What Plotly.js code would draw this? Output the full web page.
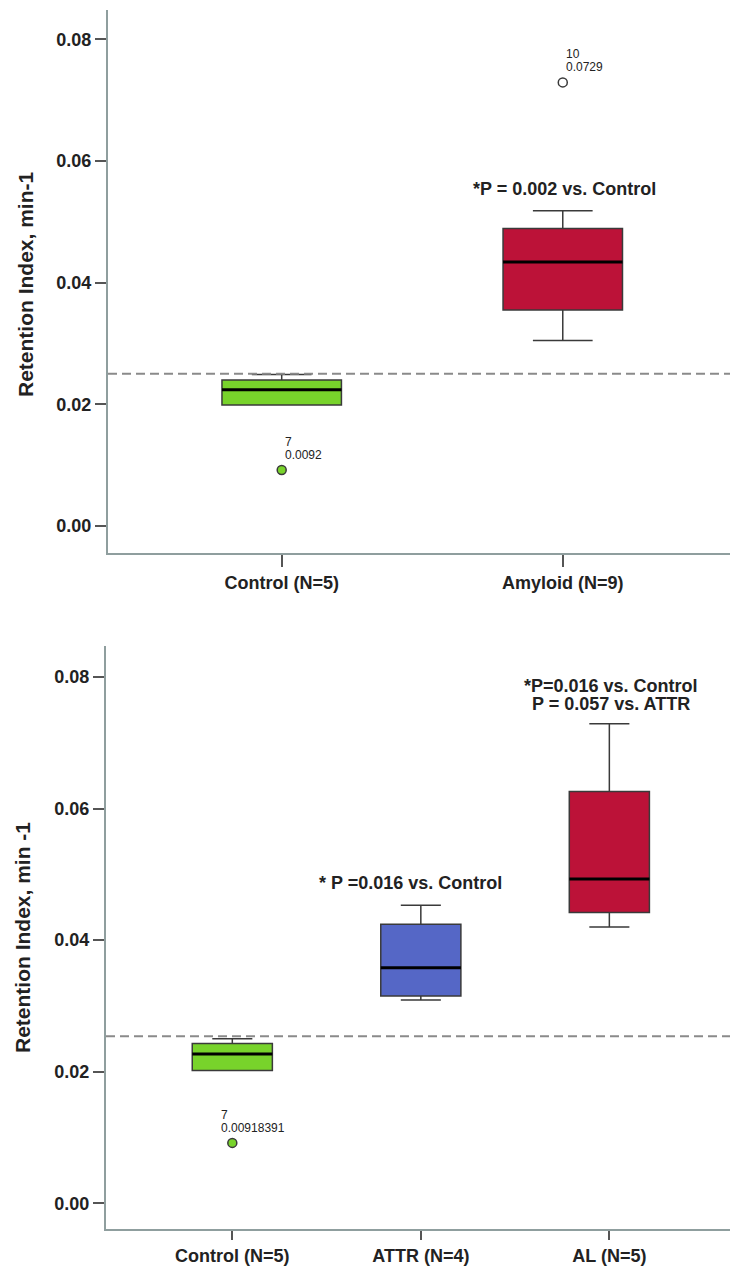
<!DOCTYPE html>
<html>
<head>
<meta charset="utf-8">
<script src="https://cdn.plot.ly/plotly-3.0.1.min.js"></script>
<style>
  html, body { margin: 0; padding: 0; background: #ffffff; }
  #chart { width: 736px; height: 1268px; }
</style>
</head>
<body>
<div id="chart"></div>
<script>
// ---- Upper panel: Control vs. Amyloid ----
const topGroups = ['Control (N=5)', 'Amyloid (N=9)'];
const topLow = [0.0199, 0.0305];
const topQ1 = [0.0199, 0.0355];
const topMedian = [0.0224, 0.0434];
const topQ3 = [0.0240, 0.0489];
const topHigh = [0.0249, 0.0518];
const topColors = ['#78d32b', '#bc1238'];
const topOutlierGroup = [0, 1];
const topOutlierValue = [0.0092, 0.0729];
const topOutlierCase = ['7', '10'];
const topOutlierLabel = ['0.0092', '0.0729'];
const topOutlierFill = ['#78d32b', '#ffffff'];
const topCutoff = 0.025;
const topStats = [{ group: 1, lines: ['*P = 0.002 vs. Control'] }];

// ---- Lower panel: Control vs. ATTR vs. AL ----
const botGroups = ['Control (N=5)', 'ATTR (N=4)', 'AL (N=5)'];
const botLow = [0.0203, 0.0309, 0.0420];
const botQ1 = [0.0202, 0.0315, 0.0442];
const botMedian = [0.0227, 0.0358, 0.0493];
const botQ3 = [0.0243, 0.0424, 0.0626];
const botHigh = [0.0250, 0.0453, 0.0729];
const botColors = ['#78d32b', '#5567c6', '#bc1238'];
const botOutlierGroup = [0];
const botOutlierValue = [0.00918391];
const botOutlierCase = ['7'];
const botOutlierLabel = ['0.00918391'];
const botOutlierFill = ['#78d32b'];
const botCutoff = 0.0254;
const botStats = [
  { group: 1, lines: ['* P =0.016 vs. Control'] },
  { group: 2, lines: ['*P=0.016 vs. Control', 'P = 0.057 vs. ATTR'] }
];

const yTicks = [0, 0.02, 0.04, 0.06, 0.08];
const yTitleTop = 'Retention Index, min-1';
const yTitleBot = 'Retention Index, min -1';

const FONT = 'Liberation Sans, Arial, Helvetica, sans-serif';
const BOX_W = 0.425;
const AXIS_LINE = '#8f9e9e';
const TICK_COL = '#555555';
const TEXT_COL = '#222222';

const traces = [];
const annotations = [];
const shapes = [];

function addPanel(groups, low, q1, med, q3, high, colors,
                  oGroup, oValue, oCase, oLabel, oFill, stats, xa, ya, caseShiftX) {
  const xr = xa;
  const yr = ya;
  groups.forEach((g, i) => {
    traces.push({
      type: 'box',
      x: [i], q1: [q1[i]], median: [med[i]], q3: [q3[i]],
      lowerfence: [low[i]], upperfence: [high[i]],
      width: BOX_W, whiskerwidth: 0.5,
      fillcolor: colors[i],
      line: { color: '#3a3a3a', width: 1.5 },
      boxpoints: false, hoverinfo: 'skip',
      xaxis: xr, yaxis: yr, showlegend: false
    });
    // heavier median bar drawn over the box
    traces.push({
      type: 'scatter', mode: 'lines',
      x: [i - BOX_W / 2, i + BOX_W / 2], y: [med[i], med[i]],
      line: { color: '#000000', width: 3 },
      hoverinfo: 'skip', xaxis: xr, yaxis: yr, showlegend: false
    });
  });
  // outlying cases
  traces.push({
    type: 'scatter', mode: 'markers',
    x: oGroup, y: oValue,
    marker: { size: 9, color: oFill, line: { color: '#3a3a3a', width: 1.5 } },
    hoverinfo: 'skip', xaxis: xr, yaxis: yr, showlegend: false
  });
  oGroup.forEach((gi, k) => {
    const base = { xref: xr, yref: yr, x: gi, y: oValue[k], showarrow: false,
                   xanchor: 'left', yanchor: 'middle',
                   font: { family: FONT, size: 12, color: TEXT_COL } };
    annotations.push(Object.assign({}, base, { text: oCase[k], yshift: 28, xshift: caseShiftX[k] }));
    annotations.push(Object.assign({}, base, { text: oLabel[k], yshift: 15, xshift: caseShiftX[k] }));
  });
  // significance notes above the upper whiskers
  stats.forEach(s => {
    const n = s.lines.length;
    s.lines.forEach((t, j) => {
      annotations.push({
        xref: xr, yref: yr, x: s.group, y: high[s.group],
        text: t, showarrow: false, xanchor: 'center', yanchor: 'middle',
        yshift: (n === 1 ? 22 : 20 + (n - 1 - j) * 18),
        xshift: (n === 1 && s.group === 1 && groups.length === 3) ? -10 : 2,
        font: { family: FONT, size: 18, weight: 'bold', color: TEXT_COL }
      });
    });
  });
}

addPanel(topGroups, topLow, topQ1, topMedian, topQ3, topHigh, topColors,
         topOutlierGroup, topOutlierValue, topOutlierCase, topOutlierLabel, topOutlierFill,
         topStats, 'x', 'y', [1, 1]);
addPanel(botGroups, botLow, botQ1, botMedian, botQ3, botHigh, botColors,
         botOutlierGroup, botOutlierValue, botOutlierCase, botOutlierLabel, botOutlierFill,
         botStats, 'x2', 'y2', [-13]);

// reference cut-off lines
[[topCutoff, 'x', 'y'], [botCutoff, 'x2', 'y2']].forEach(([v, xr, yr]) => {
  shapes.push({
    type: 'line', xref: xr + ' domain', yref: yr, x0: 0, x1: 1, y0: v, y1: v,
    line: { color: '#8a8a8a', width: 2, dash: '9px,5px' }, layer: 'above'
  });
});

// vertical axis titles
annotations.push({
  xref: 'paper', yref: 'paper', x: 26 / 736, y: 1 - 284 / 1268,
  text: yTitleTop, textangle: -90, showarrow: false,
  xanchor: 'center', yanchor: 'middle',
  font: { family: FONT, size: 21, weight: 'bold', color: TEXT_COL }
});
annotations.push({
  xref: 'paper', yref: 'paper', x: 23 / 736, y: 1 - 938 / 1268,
  text: yTitleBot, textangle: -90, showarrow: false,
  xanchor: 'center', yanchor: 'middle',
  font: { family: FONT, size: 21, weight: 'bold', color: TEXT_COL }
});

function xAxis(groups, domain, range, ticklen) {
  return {
    domain: domain, range: range, type: 'linear',
    tickvals: groups.map((_, i) => i), ticktext: groups,
    showgrid: false, zeroline: false,
    showline: true, linecolor: AXIS_LINE, linewidth: 2,
    ticks: 'outside', ticklen: ticklen, tickwidth: 2, tickcolor: TICK_COL,
    tickfont: { family: FONT, size: 18, weight: 'bold', color: TEXT_COL },
    fixedrange: true
  };
}
function yAxis(domain, range, anchor) {
  return {
    domain: domain, range: range, anchor: anchor,
    tickvals: yTicks, tickformat: '.2f',
    showgrid: false, zeroline: false,
    showline: true, linecolor: AXIS_LINE, linewidth: 2,
    ticks: 'outside', ticklen: 11, tickwidth: 2, tickcolor: TICK_COL,
    tickfont: { family: FONT, size: 18, weight: 'bold', color: TEXT_COL },
    fixedrange: true
  };
}

const layout = {
  width: 736, height: 1268,
  margin: { l: 0, r: 0, t: 0, b: 0 },
  paper_bgcolor: '#ffffff', plot_bgcolor: '#ffffff',
  showlegend: false,
  xaxis: Object.assign(xAxis(topGroups, [108 / 736, 730 / 736], [-0.618, 1.595], 12), { anchor: 'y' }),
  yaxis: yAxis([1 - 553 / 1268, 1 - 10 / 1268], [-0.00444, 0.0848], 'x'),
  xaxis2: Object.assign(xAxis(botGroups, [106 / 736, 730 / 736], [-0.670, 2.640], 9), { anchor: 'y2' }),
  yaxis2: yAxis([1 - 1229 / 1268, 1 - 646 / 1268], [-0.0039, 0.0847], 'x2'),
  shapes: shapes,
  annotations: annotations
};

Plotly.newPlot('chart', traces, layout, { staticPlot: true, displayModeBar: false });
</script>
</body>
</html>
